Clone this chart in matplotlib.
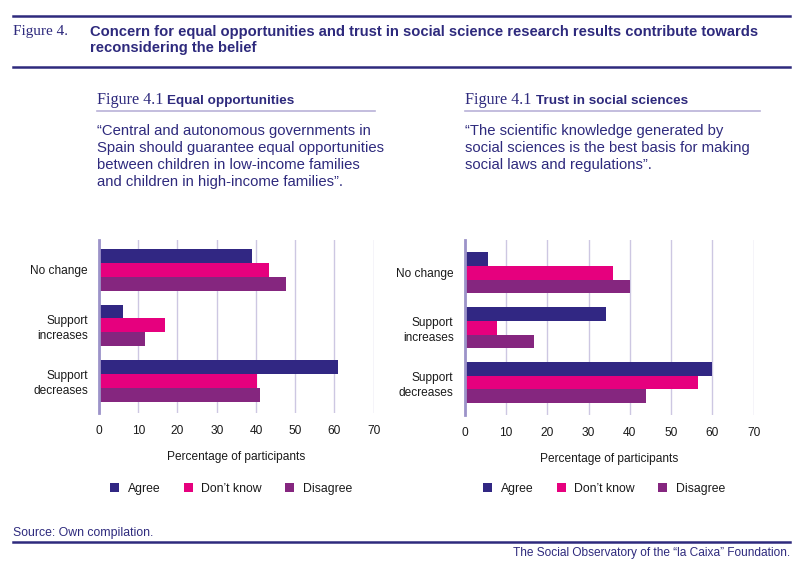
import matplotlib
matplotlib.use("Agg")
import matplotlib.pyplot as plt
from matplotlib.patches import Patch
from matplotlib.lines import Line2D
import numpy as np

plt.rcParams['font.family'] = ['Liberation Sans', 'DejaVu Sans']

# ---------------- data ----------------
categories = ["No change", "Support\nincreases", "Support\ndecreases"]
series_names = ["Agree", "Don’t know", "Disagree"]
colors = ["#312783", "#e6007e", "#85267f"]

equal_agree = [38.9, 6.1, 60.8]
equal_dontknow = [43.4, 16.8, 40.2]
equal_disagree = [47.6, 11.6, 40.9]

trust_agree = [5.6, 34.2, 60.0]
trust_dontknow = [35.9, 7.9, 56.6]
trust_disagree = [40.0, 16.9, 43.8]

x_ticks = [0, 10, 20, 30, 40, 50, 60, 70]
x_label = "Percentage of participants"

NAVY = "#2e2a7d"
GRID = "#cdc7e2"
SPINE = "#9c93c9"
W, H = 800, 567

fig = plt.figure(figsize=(8, 5.67), dpi=100)


def fx(px):
    return px / W


def fy(py):
    return 1 - py / H


def draw_panel(left_px, right_px, top_px, bottom_px, ylim, series):
    ax = fig.add_axes([fx(left_px), fy(bottom_px),
                       fx(right_px - left_px), (bottom_px - top_px) / H])
    pos = np.arange(len(categories))
    bh = 0.25
    offsets = [-bh, 0, bh]
    for vals, col, off, name in zip(series, colors, offsets, series_names):
        ax.barh(pos + off, vals, height=bh, color=col, label=name, zorder=3)
    ax.set_xlim(0, 70)
    ax.set_ylim(*ylim)
    ax.set_yticks(pos)
    ax.set_yticklabels(categories, fontsize=8.6, color="#1a1a1a",
                       linespacing=1.35)
    ax.set_xticks(x_ticks)
    ax.set_xticklabels([str(t) for t in x_ticks], fontsize=8.6, color="#1a1a1a")
    ax.tick_params(axis='both', length=0)
    ax.tick_params(axis='y', pad=8)
    ax.tick_params(axis='x', pad=9)
    ax.grid(axis='x', color=GRID, linewidth=1.0, zorder=0)
    for s in ['top', 'right', 'bottom']:
        ax.spines[s].set_visible(False)
    ax.spines['left'].set_color(SPINE)
    ax.spines['left'].set_linewidth(2.0)
    ax.spines['left'].set_zorder(4)
    ax.set_xlabel(x_label, fontsize=8.6, color="#1a1a1a", labelpad=10)
    return ax


axL = draw_panel(99, 373.7, 240, 413, (2.58, -0.54),
                 [equal_agree, equal_dontknow, equal_disagree])
axR = draw_panel(464.7, 753.7, 240, 415, (2.59, -0.6),
                 [trust_agree, trust_dontknow, trust_disagree])

# legends
for ax, cx in [(axL, 231), (axR, 604)]:
    handles = [Patch(facecolor=c, edgecolor='none') for c in colors]
    leg = fig.legend(handles, series_names, loc='center',
                     bbox_to_anchor=(fx(cx), fy(489)), ncol=3, frameon=False,
                     fontsize=8.8, handlelength=0.75, handleheight=0.75,
                     handletextpad=0.7, columnspacing=1.9,
                     labelcolor="#1a1a1a")

# ---------------- header text ----------------
fig.add_artist(Line2D([fx(13), fx(790)], [fy(16), fy(16)], color=NAVY, lw=1.8))
fig.add_artist(Line2D([fx(13), fx(790)], [fy(67), fy(67)], color=NAVY, lw=1.8))
fig.text(fx(13), fy(32), "Figure 4.", fontsize=11, family='Liberation Serif',
         color=NAVY, va='center', ha='left')
fig.text(fx(90), fy(32),
         "Concern for equal opportunities and trust in social science research results contribute towards",
         fontsize=10.6, fontweight='bold', color=NAVY, va='center', ha='left')
fig.text(fx(90), fy(48), "reconsidering the belief",
         fontsize=10.6, fontweight='bold', color=NAVY, va='center', ha='left')

# sub-figure titles
for x0, xb, x1, label in [(97, 167, 375, "Equal opportunities"),
                          (465, 536, 760, "Trust in social sciences")]:
    fig.text(fx(x0), fy(104), "Figure 4.1", fontsize=11.6, family='Liberation Serif',
             color=NAVY, va='baseline', ha='left')
    fig.text(fx(xb), fy(104), label, fontsize=9.7, fontweight='bold',
             color=NAVY, va='baseline', ha='left')
    fig.add_artist(Line2D([fx(x0), fx(x1)], [fy(110.5), fy(110.5)],
                          color="#b9b2d8", lw=1.2))

quote_left = ["“Central and autonomous governments in",
              "Spain should guarantee equal opportunities",
              "between children in low-income families",
              "and children in high-income families”."]
quote_right = ["“The scientific knowledge generated by",
               "social sciences is the best basis for making",
               "social laws and regulations”."]
for x0, lines in [(97, quote_left), (465, quote_right)]:
    for i, ln in enumerate(lines):
        fig.text(fx(x0), fy(131 + 17 * i), ln, fontsize=10.7, color=NAVY,
                 va='center', ha='left')

# footer
fig.text(fx(13), fy(533), "Source: Own compilation.", fontsize=8.8,
         color=NAVY, va='center', ha='left')
fig.add_artist(Line2D([fx(13), fx(790)], [fy(542), fy(542)], color=NAVY, lw=1.8))
fig.text(fx(790), fy(553), "The Social Observatory of the “la Caixa” Foundation.",
         fontsize=8.6, color=NAVY, va='center', ha='right')

fig.savefig("out.png", dpi=100)
